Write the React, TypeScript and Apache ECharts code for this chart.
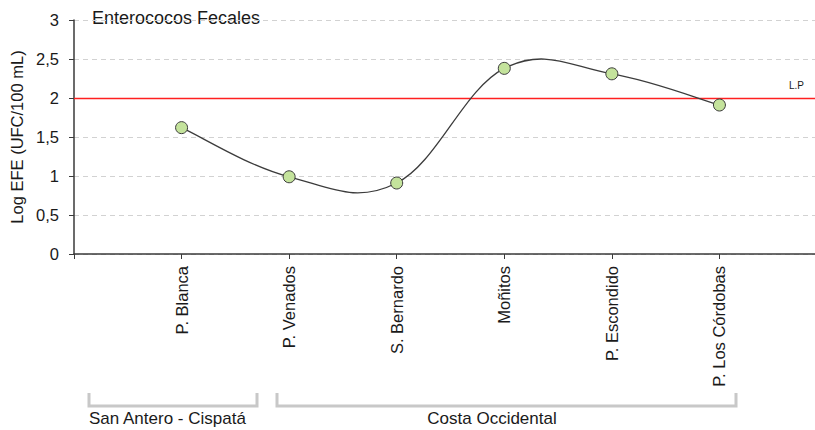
import React, { useEffect, useRef } from "react";
import * as echarts from "echarts";

const categories = ["", "P. Blanca", "P. Venados", "S. Bernardo", "Moñitos", "P. Escondido", "P. Los Córdobas", ""];
const efeValues: (number | null)[] = [null, 1.62, 0.99, 0.91, 2.38, 2.31, 1.91, null];
const limitValue = 2;
const yTicks = [0, 0.5, 1, 1.5, 2, 2.5, 3];

const FONT = "Liberation Sans, Arial, sans-serif";
const TENSION = 0.19;

const curveData = efeValues
  .map((v, i) => (v == null ? null : [i, v]))
  .filter((d) => d !== null) as number[][];

export default function App() {
  const ref = useRef<HTMLDivElement>(null);
  useEffect(() => {
    document.body.style.margin = "0";
    const chart = echarts.init(ref.current!, null, { renderer: "svg" });
    chart.setOption({
      animation: false,
      backgroundColor: "#ffffff",
      textStyle: { fontFamily: FONT },
      grid: { left: 74, top: 20, width: 753, height: 234, outerBoundsMode: "none", containLabel: false },
      xAxis: {
        type: "category",
        data: categories,
        boundaryGap: false,
        axisLine: { lineStyle: { color: "#3a3a3a", width: 1.5 } },
        axisTick: { show: true, length: 5, lineStyle: { color: "#3a3a3a" }, interval: 0 },
        axisLabel: {
          rotate: 90,
          interval: 0,
          margin: 12,
          fontSize: 16.5,
          color: "#1a1a1a",
          fontFamily: FONT,
        },
        splitLine: { show: false },
      },
      yAxis: {
        type: "value",
        min: 0,
        max: 3,
        interval: 0.5,
        name: "Log EFE (UFC/100 mL)",
        nameLocation: "middle",
        nameGap: 46,
        nameTextStyle: { fontSize: 16.5, color: "#1a1a1a", fontFamily: FONT },
        axisLine: { show: true, lineStyle: { color: "#3a3a3a", width: 1.5 } },
        axisTick: { show: true, length: 5, lineStyle: { color: "#3a3a3a" } },
        axisLabel: {
          fontSize: 16.5,
          color: "#1a1a1a",
          margin: 15,
          fontFamily: FONT,
          formatter: (v: number) => (yTicks.includes(v) ? String(v).replace(".", ",") : ""),
        },
        splitLine: { show: true, lineStyle: { color: "#d2d2d2", type: [5, 4], width: 1 } },
      },
      series: [
        {
          type: "custom",
          data: curveData,
          z: 4,
          silent: true,
          renderItem: (params: any, api: any) => {
            if (params.dataIndex !== 0) return { type: "group", children: [] };
            const pts = curveData.map((d) => api.coord([d[0], d[1]]));
            let d = `M ${pts[0][0]} ${pts[0][1]}`;
            for (let i = 0; i < pts.length - 1; i++) {
              const p0 = pts[Math.max(0, i - 1)];
              const p1 = pts[i];
              const p2 = pts[i + 1];
              const p3 = pts[Math.min(pts.length - 1, i + 2)];
              const c1x = p1[0] + (p2[0] - p0[0]) * TENSION;
              const c1y = p1[1] + (p2[1] - p0[1]) * TENSION;
              const c2x = p2[0] - (p3[0] - p1[0]) * TENSION;
              const c2y = p2[1] - (p3[1] - p1[1]) * TENSION;
              d += ` C ${c1x} ${c1y} ${c2x} ${c2y} ${p2[0]} ${p2[1]}`;
            }
            return {
              type: "path",
              shape: { pathData: d },
              style: { stroke: "#3c3c3c", lineWidth: 1.3, fill: "none" },
            };
          },
        },
        {
          type: "line",
          data: efeValues,
          connectNulls: false,
          symbol: "circle",
          symbolSize: 12,
          lineStyle: { opacity: 0, width: 0 },
          itemStyle: { color: "#c4e39c", borderColor: "#3a3a3a", borderWidth: 1 },
          z: 5,
          markLine: {
            silent: true,
            symbol: ["none", "none"],
            label: { show: false },
            lineStyle: { color: "#ff2020", type: "solid", width: 1.3 },
            data: [{ yAxis: limitValue }],
            z: 3,
          },
        },
      ],
      graphic: [
        {
          type: "text",
          left: 92,
          top: 9,
          style: { text: "Enterococos Fecales", fontSize: 18, fill: "#1a1a1a", fontFamily: FONT },
        },
        {
          type: "text",
          left: 789,
          top: 80,
          style: { text: "L.P", fontSize: 10, fill: "#1a1a1a", fontFamily: FONT },
        },
        {
          type: "polyline",
          shape: { points: [[89, 393], [89, 406], [257, 406], [257, 393]] },
          style: { stroke: "#c8c8c8", lineWidth: 3, fill: null },
        },
        {
          type: "polyline",
          shape: { points: [[277, 393], [277, 406], [736, 406], [736, 393]] },
          style: { stroke: "#c8c8c8", lineWidth: 3, fill: null },
        },
        {
          type: "text",
          left: 89,
          top: 410,
          style: { text: "San Antero - Cispatá", fontSize: 17, fill: "#1a1a1a", fontFamily: FONT },
        },
        {
          type: "text",
          x: 492,
          y: 410,
          style: { text: "Costa Occidental", fontSize: 17, fill: "#1a1a1a", fontFamily: FONT, align: "center" },
        },
      ],
    });
    return () => chart.dispose();
  }, []);
  return <div ref={ref} style={{ width: 815, height: 430 }} />;
}
